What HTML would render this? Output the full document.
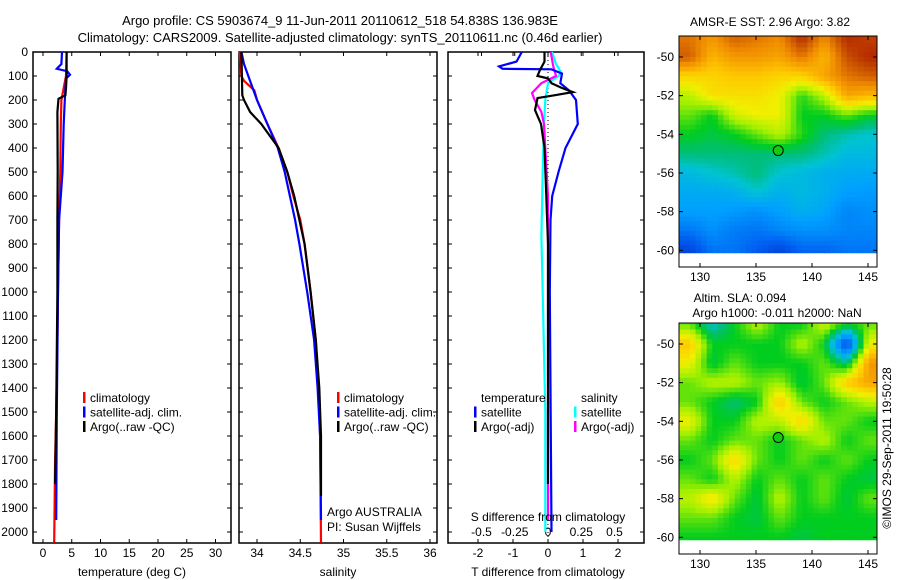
<!DOCTYPE html>
<html><head><meta charset="utf-8">
<style>
html,body{margin:0;padding:0;background:#fff;}
svg{display:block;font-family:"Liberation Sans",sans-serif;font-size:12px;}
</style></head>
<body>
<svg id="fig" width="900" height="580" viewBox="0 0 900 580" xmlns="http://www.w3.org/2000/svg">
<text x="340" y="25" text-anchor="middle" font-size="13">Argo profile: CS 5903674_9 11-Jun-2011 20110612_518 54.838S 136.983E</text>
<text x="340" y="42" text-anchor="middle" font-size="13">Climatology: CARS2009. Satellite-adjusted climatology: synTS_20110611.nc (0.46d earlier)</text>
<g id="plots"></g>
</svg>
<script>
// ---------- DATA ----------
const depthTicks = [0,100,200,300,400,500,600,700,800,900,1000,1100,1200,1300,1400,1500,1600,1700,1800,1900,2000];
const tempTicks = [0,5,10,15,20,25,30];
const salTicks = [34,34.5,35,35.5,36];
const tdiffTicks = [-2,-1,0,1,2];
const sdiffTicks = [-0.5,-0.25,0,0.25,0.5];
const lonTicks = [130,135,140,145];
const latTicks = [-50,-52,-54,-56,-58,-60];

const tempClimDepth = [0,100,150,200,300,500,700,1000,1200,1500,1700,2045];
const tempClimVal   = [4.1,4.0,3.6,3.2,3.1,3.0,2.8,2.6,2.5,2.3,2.1,1.95];
const tempSatDepth  = [0,50,70,80,95,110,200,300,500,700,1000,1500,1950];
const tempSatVal    = [3.3,3.2,2.4,4.2,4.7,4.0,3.8,3.6,3.4,2.8,2.6,2.4,2.3];
const tempArgoDepth = [0,100,150,180,195,250,500,700,1000,1500,1800];
const tempArgoVal   = [4.1,4.1,4.0,3.9,2.7,2.5,2.55,2.5,2.5,2.3,2.1];

const salClimDepth = [0,100,120,160,200,300,400,500,600,700,800,1000,1200,1400,1600,2045];
const salClimVal   = [33.8,33.82,33.85,33.97,34.0,34.12,34.25,34.35,34.42,34.5,34.55,34.62,34.68,34.71,34.73,34.74];
const salSatDepth  = [0,50,100,200,300,400,500,600,700,800,1000,1200,1400,1600,1950];
const salSatVal    = [33.82,33.85,33.9,34.0,34.12,34.24,34.32,34.38,34.44,34.49,34.58,34.66,34.7,34.73,34.74];
const salArgoDepth = [0,180,200,250,300,400,500,600,800,1000,1200,1400,1600,1850];
const salArgoVal   = [33.82,33.83,33.85,33.92,34.05,34.25,34.35,34.43,34.55,34.62,34.68,34.72,34.74,34.74];

const tdSatDepth = [0,40,60,70,72,90,130,160,200,300,400,500,600,700,1000,2000];
const tdSatVal   = [-0.75,-0.9,-1.4,-1.3,0.1,0.4,0.35,0.6,0.8,0.85,0.5,0.3,0.12,0.07,0.05,0.1];
const tdArgoDepth = [0,40,75,100,110,130,150,167,180,192,242,300,400,600,800,1000,1800];
const tdArgoVal   = [-0.1,-0.1,-0.23,-0.3,0.0,0.1,0.4,0.71,0.2,-0.3,-0.37,-0.2,-0.1,-0.05,0,0,0];
const sdSatDepth = [0,50,87,100,130,200,300,500,770,1000,1500,2000];
const sdSatVal   = [0.03,0.06,0.1,0.08,0.0,-0.02,-0.03,-0.04,-0.05,-0.04,-0.02,-0.02];
const sdArgoDepth = [0,60,100,130,171,200,250,300,400,600,1000,1500,1950];
const sdArgoVal   = [0.02,0.04,0.06,-0.05,-0.12,-0.1,-0.05,-0.03,-0.02,0,0,0,0];

// map grids: rows lat -49..-60, cols lon 2-degree bins; values are colormap fraction
const sstGrid = [
[0.85,0.8,0.88,0.85,0.82,0.95,0.82,0.95,0.92],
[0.88,0.75,0.8,0.8,0.78,0.85,0.75,0.9,0.95],
[0.7,0.7,0.72,0.72,0.7,0.7,0.78,0.85,0.88],
[0.6,0.68,0.68,0.68,0.65,0.52,0.6,0.78,0.75],
[0.55,0.5,0.62,0.65,0.65,0.5,0.5,0.55,0.5],
[0.5,0.48,0.5,0.55,0.6,0.52,0.45,0.42,0.4],
[0.45,0.45,0.45,0.45,0.45,0.45,0.42,0.38,0.38],
[0.38,0.4,0.42,0.45,0.4,0.38,0.36,0.35,0.35],
[0.35,0.35,0.36,0.4,0.36,0.38,0.36,0.33,0.32],
[0.33,0.33,0.32,0.3,0.33,0.36,0.34,0.28,0.3],
[0.25,0.3,0.26,0.25,0.28,0.3,0.3,0.28,0.28],
[0.15,0.25,0.25,0.2,0.15,0.22,0.22,0.25,0.25]];
const slaGrid = [
[0.55,0.4,0.5,0.6,0.5,0.5,0.62,0.5,0.55],
[0.72,0.5,0.5,0.5,0.5,0.6,0.5,0.15,0.65],
[0.65,0.48,0.55,0.5,0.5,0.5,0.55,0.45,0.8],
[0.55,0.6,0.6,0.55,0.58,0.48,0.55,0.72,0.78],
[0.55,0.5,0.45,0.5,0.72,0.55,0.5,0.55,0.6],
[0.65,0.5,0.5,0.6,0.6,0.7,0.55,0.55,0.5],
[0.55,0.5,0.55,0.55,0.5,0.55,0.6,0.5,0.55],
[0.5,0.55,0.7,0.55,0.5,0.55,0.5,0.55,0.5],
[0.55,0.5,0.6,0.5,0.55,0.5,0.55,0.5,0.48],
[0.6,0.68,0.55,0.48,0.6,0.5,0.55,0.48,0.55],
[0.55,0.55,0.5,0.48,0.55,0.5,0.5,0.5,0.5],
[0.5,0.5,0.5,0.5,0.5,0.48,0.5,0.5,0.5]];
const gridLats = [-49,-50,-51,-52,-53,-54,-55,-56,-57,-58,-59,-60];
const gridLons = [129.1,131.1,133.1,135.1,137.1,139.1,141.1,143.1,145.1];
const floatLon = [136.983];
const floatLat = [-54.838];

// ---------- DRAW ----------
const NS='http://www.w3.org/2000/svg';
const G=document.getElementById('plots');
function mk(tag,attrs,parent){const e=document.createElementNS(NS,tag);for(const k in attrs)e.setAttribute(k,attrs[k]);(parent||G).appendChild(e);return e;}
function txt(s,x,y,anchor,parent){const t=mk('text',{x:x,y:y,'text-anchor':anchor||'middle'},parent);t.textContent=s;return t;}

const PT=52, PB=543;
const yD = d => PT + d*0.24;
const panels = {
  temp:{x0:33,x1:231,fx:v=>43+v*5.75},
  sal:{x0:239,x1:437,fx:v=>257+(v-34)*86.5},
  diff:{x0:448,x1:644,fx:v=>548+v*35},
};
const fS = v=>548+v*133;

function frame(p,name){
  const r=mk('rect',{x:p.x0,y:PT,width:p.x1-p.x0,height:PB-PT,fill:'none',stroke:'#000','stroke-width':1.5});
  
  
  depthTicks.forEach(d=>{
    mk('line',{x1:p.x0,x2:p.x0+4,y1:yD(d),y2:yD(d),stroke:'#000'});
    mk('line',{x1:p.x1,x2:p.x1-4,y1:yD(d),y2:yD(d),stroke:'#000'});
  });
}
function line(depths,vals,fx,color,name){
  const pts=depths.map((d,i)=>fx(vals[i]).toFixed(1)+','+yD(d).toFixed(1)).join(' ');
  const l=mk('polyline',{points:pts,fill:'none',stroke:color,'stroke-width':2.2});
  
  
}
function xticks(p,ticks,fx,labY,fmt){
  ticks.forEach(v=>{
    const x=fx(v);
    mk('line',{x1:x,x2:x,y1:PB,y2:PB-4,stroke:'#000'});
    mk('line',{x1:x,x2:x,y1:PT,y2:PT+4,stroke:'#000'});
    const t=txt(fmt?fmt(v):String(v),x,labY);
    
    
  });
}
function legendBar(x,y,color){mk('rect',{x:x,y:y-10,width:2.5,height:11,fill:color});}

// panel 1
frame(panels.temp,'temperature-panel');
depthTicks.forEach(d=>{const t=txt(String(d),28,yD(d)+4,'end');
  
  });
xticks(panels.temp,tempTicks,panels.temp.fx,557);
line(tempClimDepth,tempClimVal,panels.temp.fx,'#f00','temp-climatology-line');
line(tempSatDepth,tempSatVal,panels.temp.fx,'#00f','temp-satellite-line');
line(tempArgoDepth,tempArgoVal,panels.temp.fx,'#000','temp-argo-line');
let t=txt('temperature (deg C)',132,576);


[['climatology','#f00'],['satellite-adj. clim.','#00f'],['Argo(..raw -QC)','#000']].forEach((e,i)=>{
  legendBar(83,402+i*14.5,e[1]);const l=txt(e[0],90,402+i*14.5,'start');
  
  
});

// panel 2
frame(panels.sal,'salinity-panel');
xticks(panels.sal,salTicks,panels.sal.fx,557);
line(salClimDepth,salClimVal,panels.sal.fx,'#f00','sal-climatology-line');
line(salSatDepth,salSatVal,panels.sal.fx,'#00f','sal-satellite-line');
line(salArgoDepth,salArgoVal,panels.sal.fx,'#000','sal-argo-line');
t=txt('salinity',338,576);


[['climatology','#f00'],['satellite-adj. clim.','#00f'],['Argo(..raw -QC)','#000']].forEach((e,i)=>{
  legendBar(337,402+i*14.5,e[1]);const l=txt(e[0],344,402+i*14.5,'start');
  
  
});
t=txt('Argo AUSTRALIA',327,516,'start');


t=txt('PI: Susan Wijffels',327,531,'start');



// panel 3
frame(panels.diff,'difference-panel');
xticks(panels.diff,tdiffTicks,panels.diff.fx,557);
sdiffTicks.forEach(v=>{
  mk('line',{x1:fS(v),x2:fS(v),y1:PT,y2:PT+4,stroke:'#000'});
  const l=txt(String(v),fS(v),536);
  
  
});
mk('line',{x1:548,x2:548,y1:PT,y2:PB,stroke:'#000','stroke-dasharray':'1,3'});
line(sdSatDepth,sdSatVal,fS,'#0ff','sdiff-satellite-line');
line(sdArgoDepth,sdArgoVal,fS,'#f0f','sdiff-argo-line');
line(tdSatDepth,tdSatVal,panels.diff.fx,'#00f','tdiff-satellite-line');
line(tdArgoDepth,tdArgoVal,panels.diff.fx,'#000','tdiff-argo-line');
t=txt('S difference from climatology',548,521);


t=txt('T difference from climatology',548,576);


t=txt('temperature',481,402,'start');


t=txt('salinity',581,402,'start');


[['satellite','#00f',474],['Argo(-adj)','#000',474],['satellite','#0ff',574],['Argo(-adj)','#f0f',574]].forEach((e,i)=>{
  const y=416.5+(i%2)*14.5;legendBar(e[2],y,e[1]);const l=txt(e[0],e[2]+7,y,'start');
  
  
});

// ---------- MAPS ----------
const cmapStops=[[0,[0,10,150]],[0.2,[0,90,240]],[0.33,[0,160,255]],[0.4,[0,195,210]],[0.45,[0,190,120]],[0.5,[0,205,30]],[0.58,[160,240,0]],[0.65,[240,240,0]],[0.72,[255,200,0]],[0.82,[240,140,0]],[0.9,[200,80,0]],[1,[160,0,0]]];
function cmap(v){
  v=Math.max(0,Math.min(1,v));
  for(let k=1;k<cmapStops.length;k++){
    if(v<=cmapStops[k][0]){
      const a=cmapStops[k-1],b=cmapStops[k],f=(v-a[0])/(b[0]-a[0]);
      const c=a[1].map((x,i)=>Math.round(x+(b[1][i]-x)*f));
      return `rgb(${c[0]},${c[1]},${c[2]})`;
    }
  }
  return 'rgb(160,0,0)';
}
function drawMap(top,grid,name){
  const L=679,R=877,B=top+231;
  const lonX=lon=>700+(lon-130)*11.2;
  const latY=lat=>top+21+(-50-lat)*19.33;
  const g=mk('g',{});
  
  
  const clip=mk('clipPath',{id:'c'+top},g);
  mk('rect',{x:L,y:top,width:R-L,height:latY(-60.15)-top},clip);
  const cg=mk('g',{'clip-path':`url(#c${top})`},g);
  const sub=4;
  const nr=grid.length,nc=grid[0].length;
  for(let i=0;i<nr;i++)for(let j=0;j<nc;j++)for(let a=0;a<sub;a++)for(let b=0;b<sub;b++){
    const fi=i+(a+0.5)/sub-0.5, fj=j+(b+0.5)/sub-0.5;
    const i0=Math.max(0,Math.min(nr-1,Math.floor(fi))),i1=Math.min(nr-1,i0+1);
    const j0=Math.max(0,Math.min(nc-1,Math.floor(fj))),j1=Math.min(nc-1,j0+1);
    const di=Math.max(0,Math.min(1,fi-i0)),dj=Math.max(0,Math.min(1,fj-j0));
    const v=(grid[i0][j0]*(1-dj)+grid[i0][j1]*dj)*(1-di)+(grid[i1][j0]*(1-dj)+grid[i1][j1]*dj)*di;
    const lat0=gridLats[i]+0.5-a/sub, lon0=gridLons[j]-1+b*2/sub;
    const x=lonX(lon0),y=latY(lat0);
    const c=mk('rect',{x:x.toFixed(1),y:y.toFixed(1),width:(2/sub*11.2+0.6).toFixed(1),height:(19.33/sub+0.6).toFixed(1),fill:cmap(v)},cg);
    
    
  }
  mk('rect',{x:L,y:top,width:R-L,height:B-top,fill:'none',stroke:'#000','stroke-width':1},g);
  lonTicks.forEach(lon=>{
    const x=lonX(lon);
    mk('line',{x1:x,x2:x,y1:B,y2:B-4,stroke:'#000'},g);
    mk('line',{x1:x,x2:x,y1:top,y2:top+4,stroke:'#000'},g);
    const l=txt(String(lon),x,B+14,'middle',g);
    
    
  });
  latTicks.forEach(lat=>{
    const y=latY(lat);
    mk('line',{x1:L,x2:L+4,y1:y,y2:y,stroke:'#000'},g);
    mk('line',{x1:R,x2:R-4,y1:y,y2:y,stroke:'#000'},g);
    const l=txt(String(lat),L-5,y+4,'end',g);
    
    
  });
  const m=mk('circle',{cx:lonX(floatLon[0]),cy:latY(floatLat[0]),r:5,fill:'#1c1',stroke:'#000','stroke-width':1},g);
  
  
}
drawMap(36,sstGrid,'sst-map');
drawMap(323,slaGrid,'sla-map');
t=txt('AMSR-E SST: 2.96 Argo: 3.82',770,26);


t=txt('Altim. SLA: 0.094',740,302);


t=txt('Argo h1000: -0.011 h2000: NaN',777,317);


t=txt('\u00A9IMOS 29-Sep-2011 19:50:28',0,0,'middle');
t.setAttribute('transform','translate(891,448) rotate(-90)');


</script>
</body></html>
